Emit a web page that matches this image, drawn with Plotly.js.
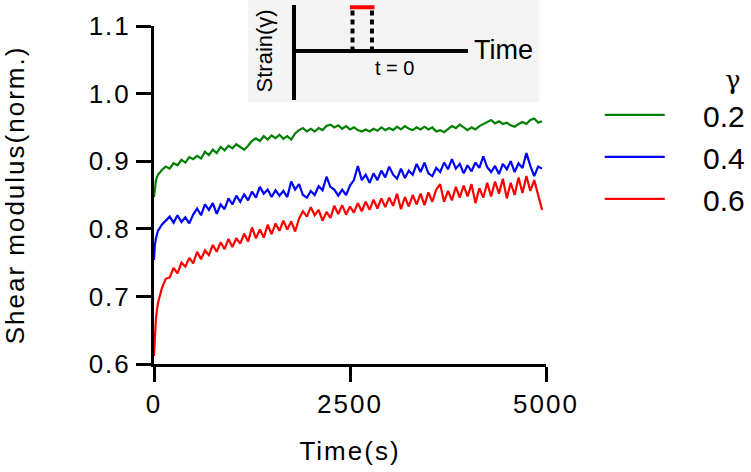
<!DOCTYPE html>
<html>
<head>
<meta charset="utf-8">
<script src="https://cdn.plot.ly/plotly-3.0.1.min.js"></script>
<style>
  html, body { margin: 0; padding: 0; background: #fff; }
  #chart { width: 751px; height: 472px; }
  .xtick text, .ytick text, .g-xtitle text, .g-ytitle text { letter-spacing: 2px; }
</style>
</head>
<body>
<div id="chart"></div>
<script>
// ---- data ----
const timeS = [0,10,25,50,100,150,200,250,300,350,400,450,500,550,600,650,700,750,800,850,900,950,
  1000,1050,1100,1150,1200,1250,1300,1350,1400,1450,1500,1550,1600,1650,1700,1750,1800,1850,1900,1950,
  2000,2050,2100,2150,2200,2250,2300,2350,2400,2450,2500,2550,2600,2650,2700,2750,2800,2850,2900,2950,
  3000,3050,3100,3150,3200,3250,3300,3350,3400,3450,3500,3550,3600,3650,3700,3750,3800,3850,3900,3950,
  4000,4050,4100,4150,4200,4250,4300,4350,4400,4450,4500,4550,4600,4650,4700,4750,4800,4850,4900,4950];

const gamma02 = [0.847,0.862,0.872,0.880,0.887,0.892,0.889,0.897,0.894,0.902,0.898,0.906,0.903,0.908,0.904,0.914,0.909,0.917,0.912,0.921,0.916,0.923,
  0.919,0.925,0.921,0.917,0.923,0.930,0.934,0.930,0.937,0.932,0.938,0.934,0.939,0.933,0.937,0.932,0.941,0.946,0.949,0.944,
  0.948,0.944,0.949,0.946,0.952,0.954,0.950,0.953,0.948,0.952,0.947,0.950,0.946,0.944,0.947,0.944,0.948,0.945,0.950,0.946,
  0.949,0.946,0.951,0.947,0.952,0.948,0.946,0.950,0.947,0.951,0.947,0.950,0.944,0.946,0.943,0.947,0.952,0.949,0.954,0.950,
  0.946,0.950,0.947,0.952,0.955,0.958,0.961,0.956,0.959,0.955,0.957,0.953,0.951,0.955,0.958,0.955,0.961,0.963,0.957,0.959];

const gamma04 = [0.754,0.775,0.786,0.797,0.806,0.812,0.818,0.809,0.820,0.810,0.817,0.808,0.821,0.830,0.820,0.836,0.828,0.838,0.822,0.836,0.829,0.845,
  0.836,0.849,0.840,0.851,0.842,0.855,0.846,0.862,0.852,0.858,0.847,0.857,0.849,0.856,0.847,0.870,0.858,0.866,0.850,0.846,
  0.856,0.850,0.863,0.857,0.877,0.862,0.858,0.849,0.858,0.850,0.864,0.872,0.893,0.872,0.880,0.868,0.882,0.872,0.886,0.876,
  0.892,0.880,0.874,0.889,0.875,0.886,0.880,0.896,0.884,0.898,0.882,0.878,0.890,0.884,0.898,0.888,0.903,0.889,0.896,0.882,
  0.894,0.885,0.898,0.890,0.907,0.891,0.884,0.893,0.881,0.896,0.888,0.900,0.884,0.897,0.890,0.912,0.893,0.878,0.892,0.889];

const gamma06 = [0.612,0.640,0.668,0.690,0.712,0.726,0.728,0.742,0.734,0.750,0.744,0.757,0.749,0.766,0.755,0.768,0.761,0.776,0.766,0.780,0.770,0.785,
  0.773,0.786,0.778,0.793,0.781,0.802,0.786,0.799,0.787,0.806,0.792,0.808,0.797,0.812,0.799,0.811,0.796,0.815,0.826,0.818,
  0.832,0.820,0.828,0.812,0.825,0.816,0.834,0.822,0.835,0.821,0.833,0.824,0.838,0.826,0.840,0.828,0.843,0.830,0.845,0.832,
  0.846,0.834,0.852,0.829,0.847,0.833,0.850,0.836,0.852,0.835,0.854,0.840,0.858,0.866,0.840,0.856,0.842,0.862,0.846,0.864,
  0.848,0.866,0.838,0.860,0.846,0.868,0.848,0.870,0.852,0.874,0.845,0.868,0.850,0.876,0.853,0.878,0.856,0.872,0.850,0.828];

const seriesNames = ['0.2', '0.4', '0.6'];
const xTickVals = [0, 2500, 5000];
const yTickVals = [0.6, 0.7, 0.8, 0.9, 1.0, 1.1];

// inset: strain protocol schematic (unitless)
const protocolStepT = [0.33, 0.443];
const protocolStrain = [0, 1];

// ---- styles ----
const colors = ['#008000', '#0000ff', '#ff0000'];
const FONT = 'Liberation Sans, Arial, sans-serif';
const GAP = '\u00a0\u00a0\u00a0\u00a0';

const traces = [gamma02, gamma04, gamma06].map((vals, i) => ({
  type: 'scatter', mode: 'lines', x: timeS, y: vals, name: GAP + seriesNames[i],
  line: { color: colors[i], width: 2.2 }, xaxis: 'x', yaxis: 'y'
}));

// inset traces
traces.push({
  type: 'scatter', mode: 'lines', showlegend: false, xaxis: 'x2', yaxis: 'y2',
  x: [protocolStepT[0], protocolStepT[0], null, protocolStepT[1], protocolStepT[1]],
  y: [protocolStrain[0], protocolStrain[1], null, protocolStrain[0], protocolStrain[1]],
  line: { color: '#000', width: 4, dash: '5px,4px' }
});
traces.push({
  type: 'scatter', mode: 'lines', showlegend: false, xaxis: 'x2', yaxis: 'y2',
  x: [protocolStepT[0] - 0.015, protocolStepT[1] + 0.015],
  y: [protocolStrain[1], protocolStrain[1]],
  line: { color: '#ff0000', width: 4 }
});

const layout = {
  width: 751, height: 472,
  margin: { l: 154, r: 196, t: 0, b: 108 },
  paper_bgcolor: '#fff', plot_bgcolor: 'rgba(0,0,0,0)',
  font: { family: FONT, color: '#000', size: 26 },
  showlegend: true,
  xaxis: {
    range: [0, 5000], tickvals: xTickVals, ticktext: xTickVals.map(String),
    showline: true, linewidth: 3, linecolor: '#000', mirror: false,
    ticks: 'outside', ticklen: 15, tickwidth: 3, tickcolor: '#000',
    showgrid: false, zeroline: false, fixedrange: true,
    tickfont: { size: 26, family: FONT },
    title: { text: 'Time(s)', font: { size: 26, family: FONT }, standoff: 24 }
  },
  yaxis: {
    domain: [0, 338 / 364], range: [0.6, 1.1], tickvals: yTickVals, tickformat: '.1f',
    showline: true, linewidth: 3, linecolor: '#000',
    ticks: 'outside', ticklen: 15, tickwidth: 3, tickcolor: '#000',
    showgrid: false, zeroline: false, fixedrange: true,
    tickfont: { size: 26, family: FONT },
    title: { text: 'Shear modulus(norm.)', font: { size: 26, family: FONT }, standoff: 58 }
  },
  xaxis2: {
    domain: [(299 - 154) / 401, (475 - 154) / 401], range: [0, 1], anchor: 'y2',
    showline: false, showgrid: false, zeroline: false, showticklabels: false, ticks: '', fixedrange: true
  },
  yaxis2: {
    domain: [(364 - 100) / 364, (364 - 5) / 364], range: [-1.1, 1.05], anchor: 'x2',
    showline: true, linewidth: 4, linecolor: '#000',
    showgrid: false, zeroline: true, zerolinewidth: 4, zerolinecolor: '#000',
    showticklabels: false, ticks: '', fixedrange: true
  },
  legend: {
    x: (610 - 154) / 401, xanchor: 'left', y: (364 - 55) / 364, yanchor: 'top',
    font: { size: 30, family: FONT, color: '#000' },
    title: { text: 'γ\u00a0', side: 'top right', font: { size: 26, family: 'DejaVu Serif, Liberation Serif, serif' } },
    bgcolor: 'rgba(0,0,0,0)', itemwidth: 60, tracegroupgap: 0
  },
  shapes: [{
    type: 'rect', xref: 'paper', yref: 'paper', layer: 'below',
    x0: (250 - 154) / 401, x1: (548 - 154) / 401, y0: (364 - 102) / 364, y1: 1,
    fillcolor: '#f4f4f4', line: { width: 0 }
  }],
  annotations: [
    { xref: 'paper', yref: 'paper', x: (479 - 154) / 401, y: (364 - 50) / 364, xanchor: 'left', yanchor: 'middle', showarrow: false,
      text: 'Time', font: { size: 27, family: FONT } },
    { xref: 'paper', yref: 'paper', x: (400 - 154) / 401, y: (364 - 68) / 364, xanchor: 'center', yanchor: 'middle', showarrow: false,
      text: 't = 0', font: { size: 20, family: FONT } },
    { xref: 'paper', yref: 'paper', x: (268 - 154) / 401, y: (364 - 51) / 364, xanchor: 'center', yanchor: 'middle',
      showarrow: false, textangle: -90, text: 'Strain(γ)', font: { size: 22, family: FONT } }
  ]
};

Plotly.newPlot('chart', traces, layout, { displayModeBar: false, staticPlot: true });
</script>
</body>
</html>
